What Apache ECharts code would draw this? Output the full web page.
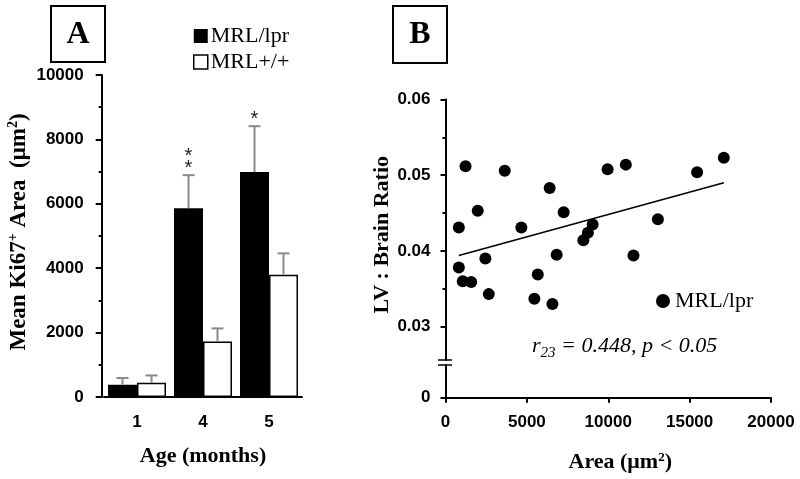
<!DOCTYPE html>
<html>
<head>
<meta charset="utf-8">
<script src="https://cdn.jsdelivr.net/npm/echarts@6/dist/echarts.min.js"></script>
<style>
html,body{margin:0;padding:0;background:#fff;}
#chart{width:800px;height:479px;}
</style>
</head>
<body>
<div id="chart"></div>
<script>
// ---------- Panel A data ----------
const ages = ['1', '4', '5'];
const lprMean = [380, 5860, 6990];
const lprErr = [210, 1030, 1420];
const wtMean = [440, 1720, 3800];
const wtErr = [230, 410, 660];
const sigMarks = ['', '*\n*', '*'];

// ---------- Panel B data (Area µm², LV:Brain ratio) ----------
const areaX = [1230, 3640, 820, 1980, 4660, 6400, 7260, 820, 1060, 1580, 2450, 2660, 5670, 5460, 6570, 6830, 8470, 8750, 9040, 9960, 11080, 11550, 13050, 15460, 17100];
const ratioY = [0.0512, 0.0506, 0.0431, 0.0453, 0.0431, 0.0483, 0.0451, 0.0378, 0.0360, 0.0359, 0.0390, 0.0343, 0.0369, 0.0337, 0.0330, 0.0395, 0.0414, 0.0424, 0.0435, 0.0508, 0.0514, 0.0394, 0.0442, 0.0504, 0.0523];
const trendX = [820, 17100];
const trendY = [0.0394, 0.0490];
const yTicksB = [0.03, 0.04, 0.05, 0.06];
const yMinorB = [0.035, 0.045, 0.055];

const SANS = 'Liberation Sans';
const SERIF = 'Liberation Serif';
const BAR_W = 29;

const scatterData = areaX.map((x, i) => [x, ratioY[i]]);
const trendData = trendX.map((x, i) => [x, trendY[i]]);

function errRender(side, marks) {
  return function (params, api) {
    const idx = api.value(0);
    const base = api.coord([idx, api.value(1)]);
    const top = api.coord([idx, api.value(1) + api.value(2)]);
    const x = base[0] + side * BAR_W / 2;
    const children = [
      {type: 'line', shape: {x1: x, y1: base[1], x2: x, y2: top[1]}, style: {stroke: '#8a8a8a', lineWidth: 2}},
      {type: 'line', shape: {x1: x - 6, y1: top[1], x2: x + 6, y2: top[1]}, style: {stroke: '#8a8a8a', lineWidth: 2}}
    ];
    if (marks && marks[idx]) {
      children.push({type: 'text', style: {text: marks[idx], x: x, y: top[1] - 1, align: 'center', verticalAlign: 'bottom',
        font: '20px "Liberation Sans"', lineHeight: 12, fill: '#222'}});
    }
    return {type: 'group', children: children};
  };
}

const chart = echarts.init(document.getElementById('chart'), null, {renderer: 'canvas'});
const axisLineStyle = {color: '#000', width: 2};
const plain = v => String(+v.toFixed(4));
const tickLabel = {fontFamily: SANS, fontWeight: 'bold', fontSize: 17, color: '#000'};

chart.setOption({
  animation: false,
  backgroundColor: '#fff',
  grid: [
    {left: 104, top: 75, width: 198, height: 322},
    {left: 445.5, top: 99.5, width: 325.5, height: 260.5},
    {left: 445.5, top: 365, width: 325.5, height: 32.7}
  ],
  legend: [
    {left: 193, top: 25, orient: 'vertical', itemGap: 4, padding: 0, itemWidth: 14, itemHeight: 14, icon: 'rect',
      textStyle: {fontFamily: SERIF, fontSize: 22, color: '#000', padding: [0, 0, 0, -2]},
      data: [
        {name: 'MRL/lpr', itemStyle: {color: '#000', borderWidth: 0}},
        {name: 'MRL+/+', itemStyle: {color: '#fff', borderColor: '#000', borderWidth: 1.5}}
      ], selectedMode: false},
    {left: 656, top: 290, padding: 0, itemWidth: 14, itemHeight: 14,
      textStyle: {fontFamily: SERIF, fontSize: 22, color: '#000'},
      data: [{name: 'MRL/lpr', icon: 'circle', itemStyle: {color: '#000', borderWidth: 0, opacity: 1}}], selectedMode: false}
  ],
  xAxis: [
    {type: 'category', gridIndex: 0, data: ages,
      axisLine: {lineStyle: axisLineStyle}, axisTick: {show: false},
      axisLabel: Object.assign({margin: 17}, tickLabel),
      name: 'Age (months)', nameLocation: 'middle', nameGap: 48,
      nameTextStyle: {fontFamily: SERIF, fontWeight: 'bold', fontSize: 22, color: '#000'}},
    {type: 'value', gridIndex: 1, min: 0, max: 20000, show: false},
    {type: 'value', gridIndex: 2, min: 0, max: 20000, interval: 5000,
      axisLine: {onZero: false, lineStyle: axisLineStyle},
      axisTick: {show: true, length: 5, lineStyle: {color: '#000', width: 2}},
      splitLine: {show: false},
      axisLabel: Object.assign({margin: 16, formatter: plain}, tickLabel),
      name: 'Area (μm{sup|2})', nameLocation: 'middle', nameGap: 53,
      nameTextStyle: {fontFamily: SERIF, fontWeight: 'bold', fontSize: 22, color: '#000', padding: [0, 0, 0, 24],
        lineHeight: 24, rich: {sup: {fontFamily: SERIF, fontWeight: 'bold', fontSize: 13, lineHeight: 13, verticalAlign: 'top'}}}}
  ],
  yAxis: [
    {type: 'value', gridIndex: 0, min: 0, max: 10000, interval: 2000, offset: 2.3,
      axisLine: {show: true, lineStyle: axisLineStyle},
      axisTick: {show: true, length: 6, lineStyle: {color: '#000', width: 2}},
      minorTick: {show: true, splitNumber: 2, length: 3, lineStyle: {color: '#000', width: 2}},
      splitLine: {show: false},
      axisLabel: Object.assign({margin: 18, formatter: plain}, tickLabel),
      name: 'Mean Ki67{sup|+} Area  (μm{sup|2})', nameLocation: 'middle', nameGap: 64,
      nameTextStyle: {fontFamily: SERIF, fontWeight: 'bold', fontSize: 23, color: '#000', lineHeight: 26, padding: [0, 0, 0, 8],
        rich: {sup: {fontFamily: SERIF, fontWeight: 'bold', fontSize: 14, lineHeight: 14, verticalAlign: 'top'}}}},
    {type: 'value', gridIndex: 1, min: 0.0256, max: 0.06,
      axisLine: {show: true, onZero: false, lineStyle: axisLineStyle},
      axisTick: {show: true, length: 5, customValues: yTicksB, lineStyle: {color: '#000', width: 2}},
      splitLine: {show: false},
      axisLabel: Object.assign({margin: 15, customValues: yTicksB, formatter: v => v.toFixed(2)}, tickLabel),
      name: 'LV : Brain Ratio', nameLocation: 'middle', nameGap: 47,
      nameTextStyle: {fontFamily: SERIF, fontWeight: 'bold', fontSize: 22, color: '#000', padding: [0, 0, 0, -10]}},
    {type: 'value', gridIndex: 1, min: 0.0256, max: 0.06,
      axisLine: {show: false},
      axisTick: {show: true, inside: true, length: 3, customValues: yMinorB, lineStyle: {color: '#000', width: 2}},
      splitLine: {show: false}, axisLabel: {show: false}},
    {type: 'value', gridIndex: 2, min: 0, max: 0.00432,
      axisLine: {show: true, onZero: false, lineStyle: axisLineStyle},
      axisTick: {show: true, length: 5, customValues: [0], lineStyle: {color: '#000', width: 2}},
      splitLine: {show: false},
      axisLabel: Object.assign({margin: 15, customValues: [0], formatter: v => '0'}, tickLabel)}
  ],
  series: [
    {type: 'bar', name: 'MRL/lpr', xAxisIndex: 0, yAxisIndex: 0, data: lprMean, barWidth: BAR_W, barGap: '0%',
      itemStyle: {color: '#000'}},
    {type: 'bar', name: 'MRL+/+', xAxisIndex: 0, yAxisIndex: 0, data: wtMean, barWidth: BAR_W, barGap: '0%',
      itemStyle: {color: '#fff', borderColor: '#000', borderWidth: 1.5}},
    {type: 'custom', name: 'errLpr', xAxisIndex: 0, yAxisIndex: 0, z: 5,
      data: lprMean.map((m, i) => [i, m, lprErr[i]]), encode: {x: 0, y: 1},
      renderItem: errRender(-1, sigMarks)},
    {type: 'custom', name: 'errWt', xAxisIndex: 0, yAxisIndex: 0, z: 5,
      data: wtMean.map((m, i) => [i, m, wtErr[i]]), encode: {x: 0, y: 1},
      renderItem: errRender(1, null)},
    {type: 'scatter', name: 'MRL/lpr', xAxisIndex: 1, yAxisIndex: 1, data: scatterData, symbolSize: 12,
      itemStyle: {color: '#000', opacity: 1}},
    {type: 'line', name: 'trend', xAxisIndex: 1, yAxisIndex: 1, data: trendData, showSymbol: false, symbol: 'none',
      lineStyle: {color: '#000', width: 1.5}}
  ],
  graphic: [
    {type: 'rect', shape: {x: 51, y: 6, width: 54, height: 56}, style: {fill: '#fff', stroke: '#000', lineWidth: 2}},
    {type: 'text', x: 78, y: 35, style: {text: 'A', font: 'bold 32px "Liberation Serif"', fill: '#000', align: 'center', verticalAlign: 'middle'}},
    {type: 'rect', shape: {x: 393, y: 6, width: 54, height: 57}, style: {fill: '#fff', stroke: '#000', lineWidth: 2}},
    {type: 'text', x: 420, y: 35, style: {text: 'B', font: 'bold 32px "Liberation Serif"', fill: '#000', align: 'center', verticalAlign: 'middle'}},
    {type: 'line', shape: {x1: 438, y1: 360, x2: 452, y2: 360}, style: {stroke: '#000', lineWidth: 1.5}},
    {type: 'line', shape: {x1: 438, y1: 365, x2: 452, y2: 365}, style: {stroke: '#000', lineWidth: 1.5}},
    {type: 'text', x: 532, y: 335, style: {
      text: '{i|r}{s|23}{i| = 0.448, p < 0.05}',
      rich: {
        i: {fontFamily: SERIF, fontStyle: 'italic', fontSize: 22, lineHeight: 22, verticalAlign: 'top', fill: '#000'},
        s: {fontFamily: SERIF, fontStyle: 'italic', fontSize: 15, lineHeight: 36, verticalAlign: 'middle', fill: '#000'}
      }}}
  ]
});
</script>
</body>
</html>
